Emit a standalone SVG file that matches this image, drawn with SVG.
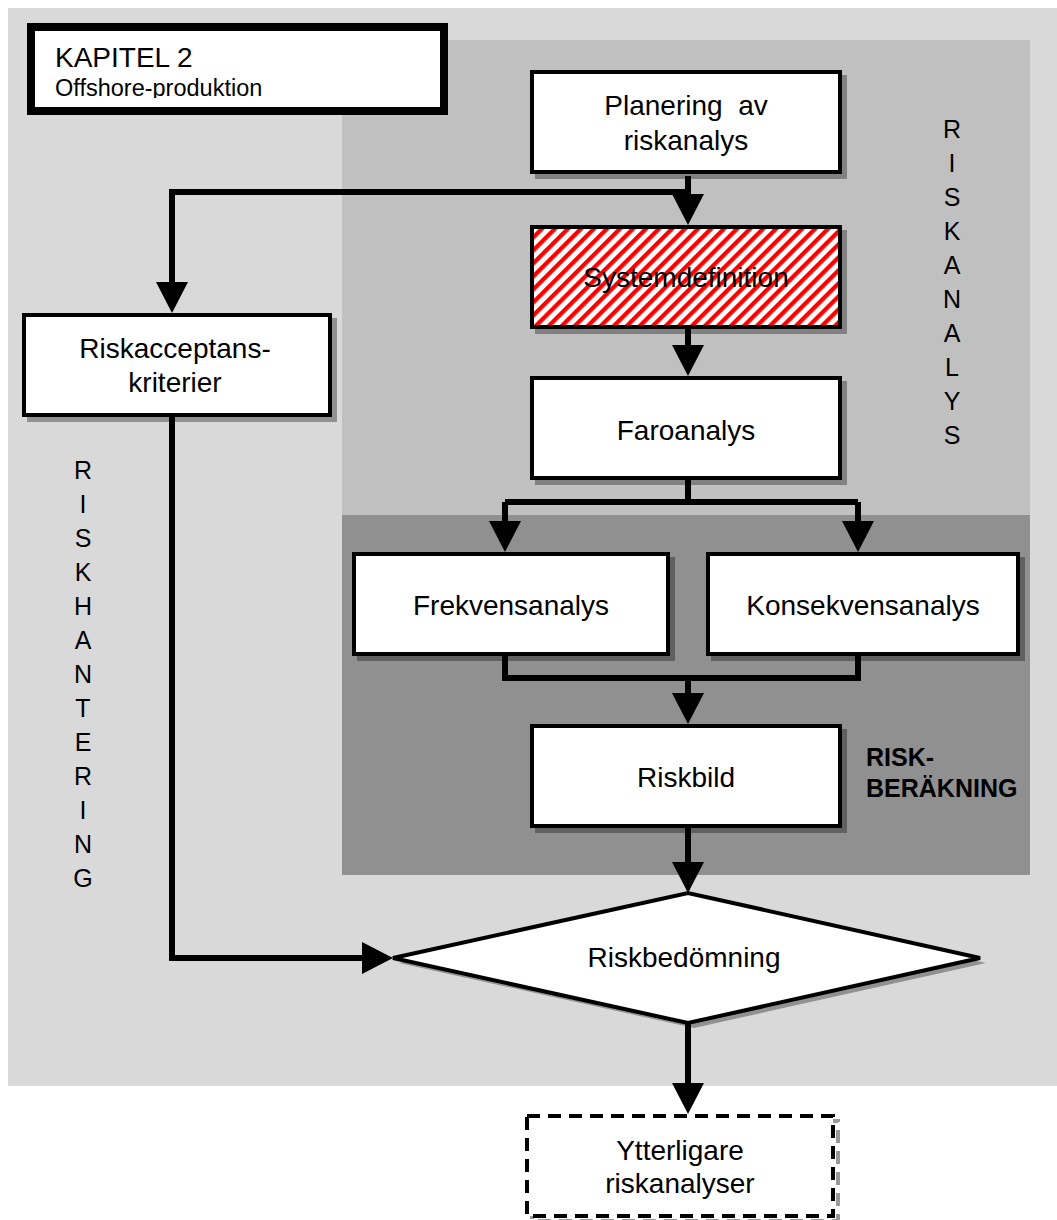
<svg xmlns="http://www.w3.org/2000/svg" width="1057" height="1220" viewBox="0 0 1057 1220">
  <style>
    .lbl { font-family: "Liberation Sans", Arial, sans-serif; font-size: 28px; fill: #000; text-anchor: middle; }
    .vert { font-family: "Liberation Sans", Arial, sans-serif; font-size: 25px; fill: #000; text-anchor: middle; }
    .bold { font-family: "Liberation Sans", Arial, sans-serif; font-size: 25px; font-weight: bold; fill: #000; }
    .box { fill: #fff; stroke: #000; stroke-width: 4; }
    .shadow { fill: #000; fill-opacity: 0.33; }
    .wire { fill: none; stroke: #000; stroke-width: 6; stroke-linejoin: miter; stroke-linecap: butt; marker-end: url(#arrow); }
    .plain { fill: none; stroke: #000; stroke-width: 6; stroke-linejoin: miter; stroke-linecap: butt; }
  </style>
  <defs>
    <marker id="arrow" markerUnits="userSpaceOnUse" markerWidth="32" markerHeight="32" refX="1" refY="16" orient="auto">
      <path d="M0,0 L31,16 L0,32 z" fill="#000"/>
    </marker>
    <pattern id="hatch" patternUnits="userSpaceOnUse" width="9.2" height="9.2" patternTransform="rotate(45)">
      <rect width="9.2" height="9.2" fill="#fff"/>
      <rect width="4.3" height="9.2" fill="#ff0000"/>
    </pattern>
    <clipPath id="capclip">
      <rect x="35" y="31" width="405" height="67"/>
    </clipPath>
  </defs>

  <!-- background zones -->
  <rect x="8" y="8" width="1049" height="1078" fill="#d9d9d9"/>
  <rect x="342" y="40" width="688" height="475" fill="#c0c0c0"/>
  <rect x="342" y="515" width="688" height="360" fill="#909090"/>

  <!-- chapter caption -->
  <g id="caption">
    <rect x="31" y="27" width="413" height="84" fill="#fff" stroke="#000" stroke-width="8"/>
    <g clip-path="url(#capclip)" font-family="Liberation Sans, Arial, sans-serif" fill="#000">
      <text x="55" y="67" font-size="28">KAPITEL 2</text>
      <text x="55" y="96" font-size="23.5">Offshore-produktion</text>
    </g>
  </g>

  <!-- zone labels -->
  <text class="vert" id="label-riskanalys">
    <tspan x="952" y="138">R</tspan><tspan x="952" dy="34">I</tspan><tspan x="952" dy="34">S</tspan><tspan x="952" dy="34">K</tspan><tspan x="952" dy="34">A</tspan><tspan x="952" dy="34">N</tspan><tspan x="952" dy="34">A</tspan><tspan x="952" dy="34">L</tspan><tspan x="952" dy="34">Y</tspan><tspan x="952" dy="34">S</tspan>
  </text>
  <text class="vert" id="label-riskhantering">
    <tspan x="83" y="479">R</tspan><tspan x="83" dy="34">I</tspan><tspan x="83" dy="34">S</tspan><tspan x="83" dy="34">K</tspan><tspan x="83" dy="34">H</tspan><tspan x="83" dy="34">A</tspan><tspan x="83" dy="34">N</tspan><tspan x="83" dy="34">T</tspan><tspan x="83" dy="34">E</tspan><tspan x="83" dy="34">R</tspan><tspan x="83" dy="34">I</tspan><tspan x="83" dy="34">N</tspan><tspan x="83" dy="34">G</tspan>
  </text>
  <text class="bold" id="label-riskberakning">
    <tspan x="866" y="766">RISK-</tspan><tspan x="866" dy="31">BERÄKNING</tspan>
  </text>

  <!-- connectors -->
  <g id="connectors">
    <path class="wire" d="M688,176 V195"/>
    <path class="wire" d="M691,192 H172 V283"/>
    <path class="wire" d="M688,329 V346"/>
    <path class="plain" d="M688,480 V502"/>
    <path class="wire" d="M505,502 V522"/>
    <path class="wire" d="M858,502 V522"/>
    <path class="plain" d="M505,502 H858"/>
    <path class="plain" d="M505,656 V678 H858 V656"/>
    <path class="wire" d="M688,678 V694"/>
    <path class="wire" d="M688,828 V863"/>
    <path class="wire" d="M172,417 V958 H363"/>
    <path class="wire" d="M688,1023 V1084"/>
  </g>

  <!-- nodes -->
  <g id="planering">
    <rect class="shadow" x="535" y="75" width="312" height="104"/>
    <rect class="box" x="532" y="72" width="308" height="100"/>
    <text class="lbl" x="686" y="115" xml:space="preserve">Planering  av</text>
    <text class="lbl" x="686" y="150">riskanalys</text>
  </g>

  <g id="systemdefinition">
    <rect class="shadow" x="535" y="230" width="312" height="104"/>
    <rect x="532" y="227" width="308" height="100" fill="url(#hatch)" stroke="#000" stroke-width="4"/>
    <text class="lbl" x="686" y="287">Systemdefinition</text>
  </g>

  <g id="faroanalys">
    <rect class="shadow" x="535" y="381" width="312" height="104"/>
    <rect class="box" x="532" y="378" width="308" height="100"/>
    <text class="lbl" x="686" y="440">Faroanalys</text>
  </g>

  <g id="frekvensanalys">
    <rect class="shadow" x="357" y="557" width="318" height="104"/>
    <rect class="box" x="354" y="554" width="314" height="100"/>
    <text class="lbl" x="511" y="615">Frekvensanalys</text>
  </g>

  <g id="konsekvensanalys">
    <rect class="shadow" x="711" y="557" width="314" height="104"/>
    <rect class="box" x="708" y="554" width="310" height="100"/>
    <text class="lbl" x="863" y="615">Konsekvensanalys</text>
  </g>

  <g id="riskbild">
    <rect class="shadow" x="535" y="729" width="312" height="104"/>
    <rect class="box" x="532" y="726" width="308" height="100"/>
    <text class="lbl" x="686" y="787">Riskbild</text>
  </g>

  <g id="riskacceptans">
    <rect class="shadow" x="27" y="318" width="310" height="104"/>
    <rect class="box" x="24" y="315" width="306" height="100"/>
    <text class="lbl" x="175" y="358">Riskacceptans-</text>
    <text class="lbl" x="175" y="392">kriterier</text>
  </g>

  <g id="riskbedomning">
    <polygon class="shadow" points="399,963 694,898 986,963 694,1028"/>
    <polygon class="box" points="393,958 688,893 980,958 688,1023"/>
    <text class="lbl" x="684" y="967">Riskbedömning</text>
  </g>

  <g id="ytterligare">
    <rect x="532" y="1121" width="306" height="100" fill="none" stroke="#000" stroke-opacity="0.4" stroke-width="4" stroke-dasharray="13 8"/>
    <rect x="527" y="1116" width="306" height="100" fill="#fff" stroke="#000" stroke-width="4" stroke-dasharray="13 8"/>
    <text class="lbl" x="680" y="1160">Ytterligare</text>
    <text class="lbl" x="680" y="1193">riskanalyser</text>
  </g>
</svg>
